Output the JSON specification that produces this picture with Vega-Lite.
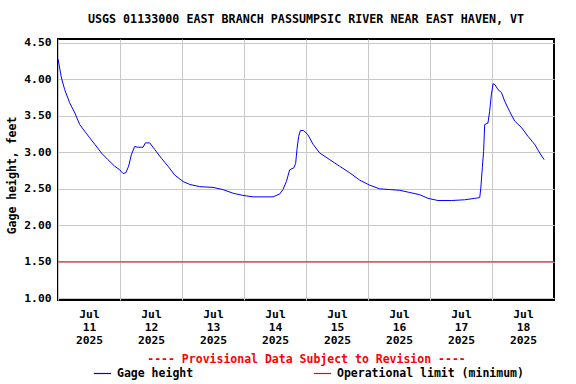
{
  "$schema": "https://vega.github.io/schema/vega-lite/v6.json",
  "width": 496,
  "height": 261,
  "autosize": "none",
  "padding": {"left": 58, "top": 39, "right": 22, "bottom": 84},
  "background": "white",
  "title": {
    "text": "USGS 01133000 EAST BRANCH PASSUMPSIC RIVER NEAR EAST HAVEN, VT",
    "font": "DejaVu Sans Mono",
    "fontSize": 11.7,
    "fontWeight": "bold",
    "color": "black",
    "offset": 11
  },
  "datasets": {
    "gage": [
      {"t": "2025-07-11T00:00:00", "v": 4.28, "series": "Gage height"},
      {"t": "2025-07-11T01:20:00", "v": 4.02, "series": "Gage height"},
      {"t": "2025-07-11T02:35:00", "v": 3.86, "series": "Gage height"},
      {"t": "2025-07-11T04:30:00", "v": 3.68, "series": "Gage height"},
      {"t": "2025-07-11T06:30:00", "v": 3.54, "series": "Gage height"},
      {"t": "2025-07-11T08:25:00", "v": 3.38, "series": "Gage height"},
      {"t": "2025-07-11T10:20:00", "v": 3.29, "series": "Gage height"},
      {"t": "2025-07-11T12:15:00", "v": 3.20, "series": "Gage height"},
      {"t": "2025-07-11T14:15:00", "v": 3.11, "series": "Gage height"},
      {"t": "2025-07-11T16:50:00", "v": 2.99, "series": "Gage height"},
      {"t": "2025-07-11T19:20:00", "v": 2.90, "series": "Gage height"},
      {"t": "2025-07-11T21:55:00", "v": 2.81, "series": "Gage height"},
      {"t": "2025-07-11T23:55:00", "v": 2.76, "series": "Gage height"},
      {"t": "2025-07-12T01:10:00", "v": 2.71, "series": "Gage height"},
      {"t": "2025-07-12T02:15:00", "v": 2.72, "series": "Gage height"},
      {"t": "2025-07-12T03:20:00", "v": 2.81, "series": "Gage height"},
      {"t": "2025-07-12T04:25:00", "v": 2.97, "series": "Gage height"},
      {"t": "2025-07-12T05:40:00", "v": 3.08, "series": "Gage height"},
      {"t": "2025-07-12T07:00:00", "v": 3.07, "series": "Gage height"},
      {"t": "2025-07-12T08:55:00", "v": 3.07, "series": "Gage height"},
      {"t": "2025-07-12T09:50:00", "v": 3.13, "series": "Gage height"},
      {"t": "2025-07-12T11:30:00", "v": 3.13, "series": "Gage height"},
      {"t": "2025-07-12T13:25:00", "v": 3.04, "series": "Gage height"},
      {"t": "2025-07-12T16:00:00", "v": 2.92, "series": "Gage height"},
      {"t": "2025-07-12T18:35:00", "v": 2.81, "series": "Gage height"},
      {"t": "2025-07-12T21:10:00", "v": 2.69, "series": "Gage height"},
      {"t": "2025-07-13T00:25:00", "v": 2.60, "series": "Gage height"},
      {"t": "2025-07-13T03:00:00", "v": 2.56, "series": "Gage height"},
      {"t": "2025-07-13T06:50:00", "v": 2.53, "series": "Gage height"},
      {"t": "2025-07-13T12:00:00", "v": 2.52, "series": "Gage height"},
      {"t": "2025-07-13T15:50:00", "v": 2.49, "series": "Gage height"},
      {"t": "2025-07-13T19:45:00", "v": 2.44, "series": "Gage height"},
      {"t": "2025-07-13T23:35:00", "v": 2.41, "series": "Gage height"},
      {"t": "2025-07-14T03:30:00", "v": 2.39, "series": "Gage height"},
      {"t": "2025-07-14T11:15:00", "v": 2.39, "series": "Gage height"},
      {"t": "2025-07-14T13:50:00", "v": 2.43, "series": "Gage height"},
      {"t": "2025-07-14T15:05:00", "v": 2.49, "series": "Gage height"},
      {"t": "2025-07-14T16:25:00", "v": 2.60, "series": "Gage height"},
      {"t": "2025-07-14T17:40:00", "v": 2.76, "series": "Gage height"},
      {"t": "2025-07-14T19:20:00", "v": 2.79, "series": "Gage height"},
      {"t": "2025-07-14T20:00:00", "v": 2.85, "series": "Gage height"},
      {"t": "2025-07-14T20:30:00", "v": 3.04, "series": "Gage height"},
      {"t": "2025-07-14T21:10:00", "v": 3.22, "series": "Gage height"},
      {"t": "2025-07-14T21:50:00", "v": 3.30, "series": "Gage height"},
      {"t": "2025-07-14T23:05:00", "v": 3.30, "series": "Gage height"},
      {"t": "2025-07-15T00:45:00", "v": 3.24, "series": "Gage height"},
      {"t": "2025-07-15T02:45:00", "v": 3.11, "series": "Gage height"},
      {"t": "2025-07-15T05:20:00", "v": 2.99, "series": "Gage height"},
      {"t": "2025-07-15T09:10:00", "v": 2.90, "series": "Gage height"},
      {"t": "2025-07-15T13:00:00", "v": 2.81, "series": "Gage height"},
      {"t": "2025-07-15T16:55:00", "v": 2.72, "series": "Gage height"},
      {"t": "2025-07-15T20:45:00", "v": 2.62, "series": "Gage height"},
      {"t": "2025-07-16T00:40:00", "v": 2.55, "series": "Gage height"},
      {"t": "2025-07-16T04:30:00", "v": 2.50, "series": "Gage height"},
      {"t": "2025-07-16T08:25:00", "v": 2.49, "series": "Gage height"},
      {"t": "2025-07-16T12:15:00", "v": 2.48, "series": "Gage height"},
      {"t": "2025-07-16T16:10:00", "v": 2.45, "series": "Gage height"},
      {"t": "2025-07-16T20:00:00", "v": 2.42, "series": "Gage height"},
      {"t": "2025-07-16T23:15:00", "v": 2.37, "series": "Gage height"},
      {"t": "2025-07-17T03:05:00", "v": 2.34, "series": "Gage height"},
      {"t": "2025-07-17T08:15:00", "v": 2.34, "series": "Gage height"},
      {"t": "2025-07-17T13:25:00", "v": 2.35, "series": "Gage height"},
      {"t": "2025-07-17T17:20:00", "v": 2.37, "series": "Gage height"},
      {"t": "2025-07-17T19:15:00", "v": 2.38, "series": "Gage height"},
      {"t": "2025-07-17T19:40:00", "v": 2.51, "series": "Gage height"},
      {"t": "2025-07-17T20:15:00", "v": 2.79, "series": "Gage height"},
      {"t": "2025-07-17T20:45:00", "v": 3.01, "series": "Gage height"},
      {"t": "2025-07-17T21:10:00", "v": 3.38, "series": "Gage height"},
      {"t": "2025-07-17T22:25:00", "v": 3.40, "series": "Gage height"},
      {"t": "2025-07-17T23:05:00", "v": 3.56, "series": "Gage height"},
      {"t": "2025-07-17T23:45:00", "v": 3.79, "series": "Gage height"},
      {"t": "2025-07-18T00:25:00", "v": 3.94, "series": "Gage height"},
      {"t": "2025-07-18T01:05:00", "v": 3.93, "series": "Gage height"},
      {"t": "2025-07-18T02:20:00", "v": 3.86, "series": "Gage height"},
      {"t": "2025-07-18T03:40:00", "v": 3.82, "series": "Gage height"},
      {"t": "2025-07-18T04:55:00", "v": 3.70, "series": "Gage height"},
      {"t": "2025-07-18T06:50:00", "v": 3.56, "series": "Gage height"},
      {"t": "2025-07-18T08:45:00", "v": 3.43, "series": "Gage height"},
      {"t": "2025-07-18T11:25:00", "v": 3.34, "series": "Gage height"},
      {"t": "2025-07-18T13:55:00", "v": 3.22, "series": "Gage height"},
      {"t": "2025-07-18T16:30:00", "v": 3.11, "series": "Gage height"},
      {"t": "2025-07-18T18:30:00", "v": 2.99, "series": "Gage height"},
      {"t": "2025-07-18T20:10:00", "v": 2.90, "series": "Gage height"}
    ],
    "limit": [
      {"v": 1.5, "series": "Operational limit (minimum)"}
    ]
  },
  "encoding": {
    "y": {
      "field": "v",
      "type": "quantitative",
      "scale": {"domain": [0.977, 4.553], "nice": false, "zero": false},
      "axis": {
        "values": [1.0, 1.5, 2.0, 2.5, 3.0, 3.5, 4.0, 4.5],
        "tickCount": 8,
        "format": ".2f",
        "labelOverlap": false,
        "title": "Gage height, feet",
        "titlePadding": 6,
        "titleY": 136,
        "labelPadding": 7
      }
    },
    "stroke": {
      "field": "series",
      "type": "nominal",
      "scale": {"domain": ["Gage height", "Operational limit (minimum)"], "range": ["#0000ff", "#ff0000"]},
      "legend": {
        "title": null,
        "orient": "none",
        "legendX": 35,
        "legendY": 325,
        "direction": "horizontal",
        "symbolType": "stroke",
        "symbolSize": 300,
        "symbolStrokeWidth": 1.2,
        "columnPadding": 117,
        "labelOffset": 5
      }
    }
  },
  "layer": [
    {
      "data": {"name": "gage"},
      "mark": {"type": "line", "strokeWidth": 1},
      "encoding": {
        "x": {
          "field": "t",
          "type": "temporal",
          "scale": {"domain": [{"year": 2025, "month": 7, "date": 11}, {"year": 2025, "month": 7, "date": 19}]},
          "axis": {
            "values": [
              {"year": 2025, "month": 7, "date": 11},
              {"year": 2025, "month": 7, "date": 12},
              {"year": 2025, "month": 7, "date": 13},
              {"year": 2025, "month": 7, "date": 14},
              {"year": 2025, "month": 7, "date": 15},
              {"year": 2025, "month": 7, "date": 16},
              {"year": 2025, "month": 7, "date": 17},
              {"year": 2025, "month": 7, "date": 18}
            ],
            "labelExpr": "[timeFormat(datum.value, '%b'), timeFormat(datum.value, '%d'), timeFormat(datum.value, '%Y')]",
            "labelOffset": 31,
            "labelAlign": "center",
            "labelBaseline": "top",
            "labelLineHeight": 13,
            "labelPadding": 8,
            "title": "---- Provisional Data Subject to Revision ----",
            "titleColor": "#ff0000",
            "titlePadding": 8
          }
        }
      }
    },
    {
      "data": {"name": "limit"},
      "mark": {"type": "rule", "strokeWidth": 1},
      "encoding": {}
    }
  ],
  "config": {
    "view": {"stroke": "black", "strokeWidth": 2},
    "axis": {
      "labelFont": "DejaVu Sans Mono",
      "labelFontSize": 11.3,
      "labelFontWeight": "bold",
      "labelColor": "black",
      "titleFont": "DejaVu Sans Mono",
      "titleFontSize": 11.5,
      "titleFontWeight": "bold",
      "titleColor": "black",
      "grid": true,
      "gridColor": "#c8c8c8",
      "gridWidth": 1,
      "gridOpacity": 1,
      "ticks": false,
      "domain": false
    },
    "legend": {
      "labelFont": "DejaVu Sans Mono",
      "labelFontSize": 11.5,
      "labelFontWeight": "bold",
      "labelColor": "black",
      "labelLimit": 400
    }
  }
}
